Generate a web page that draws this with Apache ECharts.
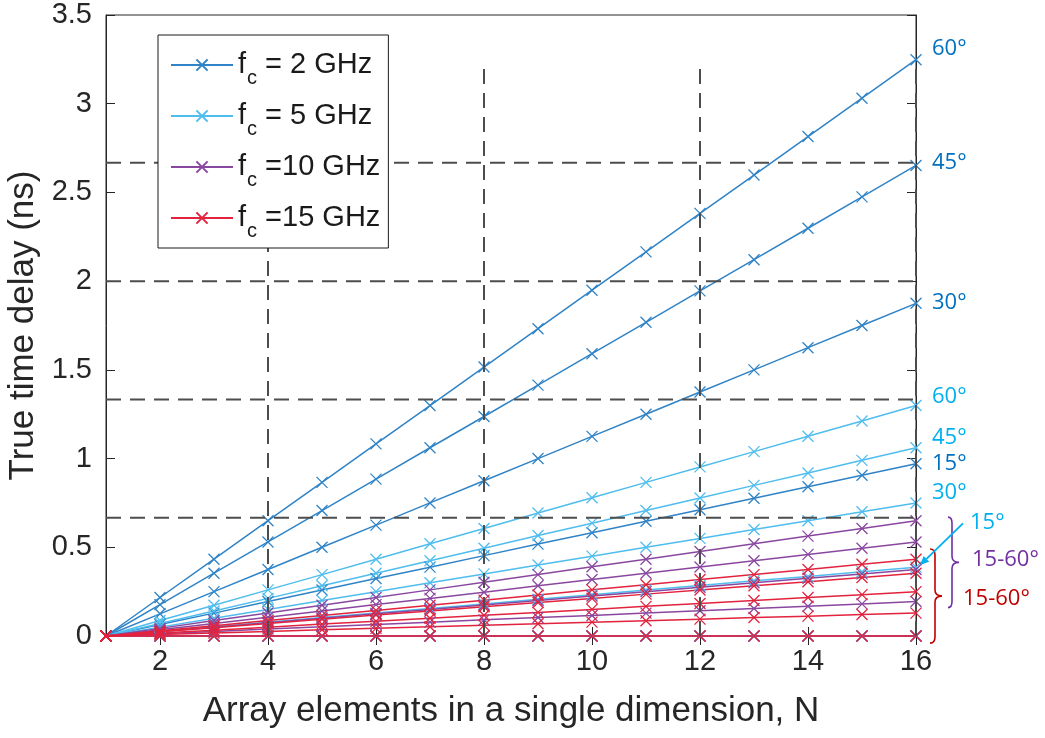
<!DOCTYPE html>
<html>
<head>
<meta charset="utf-8">
<script src="https://cdn.jsdelivr.net/npm/echarts@6/dist/echarts.min.js"></script>
<style>
  html, body { margin: 0; padding: 0; background: #ffffff; }
  #chart { width: 1045px; height: 738px; }
</style>
</head>
<body>
<div id="chart"></div>
<script>
// ---------- data ----------
const elementsN = [1, 2, 3, 4, 5, 6, 7, 8, 9, 10, 11, 12, 13, 14, 15, 16];

const delay2GHz = {
  '0':  [0, 0, 0, 0, 0, 0, 0, 0, 0, 0, 0, 0, 0, 0, 0, 0],
  '15': [0, 0.065, 0.129, 0.194, 0.259, 0.324, 0.388, 0.453, 0.518, 0.582, 0.647, 0.712, 0.776, 0.841, 0.906, 0.971],
  '30': [0, 0.125, 0.25, 0.375, 0.5, 0.625, 0.75, 0.875, 1.0, 1.125, 1.25, 1.375, 1.5, 1.625, 1.75, 1.875],
  '45': [0, 0.177, 0.354, 0.530, 0.707, 0.884, 1.061, 1.237, 1.414, 1.591, 1.768, 1.945, 2.121, 2.298, 2.475, 2.652],
  '60': [0, 0.217, 0.433, 0.650, 0.866, 1.083, 1.299, 1.516, 1.732, 1.949, 2.165, 2.382, 2.598, 2.815, 3.031, 3.248]
};
const delay5GHz = {
  '0':  [0, 0, 0, 0, 0, 0, 0, 0, 0, 0, 0, 0, 0, 0, 0, 0],
  '15': [0, 0.026, 0.052, 0.078, 0.104, 0.129, 0.155, 0.181, 0.207, 0.233, 0.259, 0.285, 0.311, 0.336, 0.362, 0.388],
  '30': [0, 0.05, 0.1, 0.15, 0.2, 0.25, 0.3, 0.35, 0.4, 0.45, 0.5, 0.55, 0.6, 0.65, 0.7, 0.75],
  '45': [0, 0.071, 0.141, 0.212, 0.283, 0.354, 0.424, 0.495, 0.566, 0.636, 0.707, 0.778, 0.849, 0.919, 0.990, 1.061],
  '60': [0, 0.087, 0.173, 0.260, 0.346, 0.433, 0.520, 0.606, 0.693, 0.779, 0.866, 0.953, 1.039, 1.126, 1.212, 1.299]
};
const delay10GHz = {
  '0':  [0, 0, 0, 0, 0, 0, 0, 0, 0, 0, 0, 0, 0, 0, 0, 0],
  '15': [0, 0.013, 0.026, 0.039, 0.052, 0.065, 0.078, 0.091, 0.104, 0.116, 0.129, 0.142, 0.155, 0.168, 0.181, 0.194],
  '30': [0, 0.025, 0.05, 0.075, 0.1, 0.125, 0.15, 0.175, 0.2, 0.225, 0.25, 0.275, 0.3, 0.325, 0.35, 0.375],
  '45': [0, 0.035, 0.071, 0.106, 0.141, 0.177, 0.212, 0.247, 0.283, 0.318, 0.354, 0.389, 0.424, 0.460, 0.495, 0.530],
  '60': [0, 0.043, 0.087, 0.130, 0.173, 0.217, 0.260, 0.303, 0.346, 0.390, 0.433, 0.476, 0.520, 0.563, 0.606, 0.650]
};
const delay15GHz = {
  '0':  [0, 0, 0, 0, 0, 0, 0, 0, 0, 0, 0, 0, 0, 0, 0, 0],
  '15': [0, 0.009, 0.017, 0.026, 0.035, 0.043, 0.052, 0.060, 0.069, 0.078, 0.086, 0.095, 0.104, 0.112, 0.121, 0.129],
  '30': [0, 0.017, 0.033, 0.050, 0.067, 0.083, 0.100, 0.117, 0.133, 0.150, 0.167, 0.183, 0.200, 0.217, 0.233, 0.250],
  '45': [0, 0.024, 0.047, 0.071, 0.094, 0.118, 0.141, 0.165, 0.189, 0.212, 0.236, 0.259, 0.283, 0.306, 0.330, 0.354],
  '60': [0, 0.029, 0.058, 0.087, 0.115, 0.144, 0.173, 0.202, 0.231, 0.260, 0.289, 0.318, 0.346, 0.375, 0.404, 0.433]
};

const seriesNames = ['fc2', 'fc5', 'fc10', 'fc15'];
const legendTexts = ['= 2 GHz', '= 5 GHz', '=10 GHz', '=15 GHz'];
const xTickValues = [2, 4, 6, 8, 10, 12, 14, 16];

// dashed guide lines
const guideDelays = [0.667, 1.333, 2.0, 2.667];
const guideElements = [4, 8, 12, 16];
const guideTop = 3.23;

// angle annotations at the right edge
const annotTexts  = ['60°', '45°', '30°', '60°', '45°', '15°', '30°', '15°', '15-60°', '15-60°'];
const annotDelays = [3.31, 2.67, 1.88, 1.35, 1.12, 0.97, 0.81, 0.64, 0.43, 0.21];
const annotGroup  = [0, 0, 0, 1, 1, 0, 1, 1, 2, 3];
const braceRanges = [[0.16, 0.67], [-0.04, 0.49]];   // purple, red
const arrowFromTo = [0.64, 0.40];

// ---------- styles ----------
const lineColors  = ['#2f83c6', '#4fbdee', '#8a47a0', '#e3233d'];
const labelColors = ['#0070c0', '#00b0f0', '#7030a0', '#c00000'];
const annotDx     = [16, 16, 16, 16, 16, 16, 16, 54, 56, 47];
const X_MARK = 'path://M0,0L10,10M10,0L0,10';
const AX = '#262626';
const FONT = '"Liberation Sans", Arial, sans-serif';

const chart = echarts.init(document.getElementById('chart'), null, { renderer: 'canvas' });

const series = [];
const groups = [delay2GHz, delay5GHz, delay10GHz, delay15GHz];
groups.forEach((g, gi) => {
  ['0', '15', '30', '45', '60'].forEach(angle => {
    series.push({
      type: 'line',
      name: seriesNames[gi],
      data: elementsN.map((n, i) => [n, g[angle][i]]),
      symbol: X_MARK,
      symbolSize: 11,
      showAllSymbol: true,
      clip: false,
      lineStyle: { color: lineColors[gi], width: 1.5 },
      itemStyle: { color: lineColors[gi], borderColor: lineColors[gi], borderWidth: 1.3 },
      emphasis: { disabled: true },
      z: 2,
      animation: false
    });
  });
});

const dashStyle = { color: '#4d4d4d', width: 2, type: [15, 9] };
guideDelays.forEach(v => {
  series.push({
    type: 'line', data: [[elementsN[0], v], [elementsN[elementsN.length - 1], v]],
    symbol: 'none', lineStyle: dashStyle, z: 3, silent: true, animation: false
  });
});
guideElements.forEach(n => {
  series.push({
    type: 'line', data: [[n, 0], [n, guideTop]],
    symbol: 'none', lineStyle: dashStyle, z: 3, silent: true, animation: false
  });
});

// annotations (labels, braces, arrow) placed through the axes' scales
series.push({
  type: 'custom',
  clip: false,
  silent: true,
  animation: false,
  z: 5,
  data: [[elementsN[elementsN.length - 1], 0]],
  renderItem: function (params, api) {
    const xEnd = elementsN[elementsN.length - 1];
    const children = [];
    annotTexts.forEach((t, i) => {
      const p = api.coord([xEnd, annotDelays[i]]);
      children.push({
        type: 'text',
        style: {
          x: p[0] + annotDx[i], y: p[1], text: t,
          fill: labelColors[annotGroup[i]],
          font: '22px "Open Sans", "Noto Sans", sans-serif',
          textAlign: 'left', textVerticalAlign: 'middle'
        }
      });
    });
    // braces
    const braceDx = [[32, 36, 43], [14, 19, 26]];
    braceRanges.forEach((r, bi) => {
      const top = api.coord([xEnd, r[1]])[1];
      const bot = api.coord([xEnd, r[0]])[1];
      const x0 = api.coord([xEnd, 0])[0];
      const hx = x0 + braceDx[bi][0], vx = x0 + braceDx[bi][1], tx = x0 + braceDx[bi][2];
      const mid = (top + bot) / 2, rr = 6;
      children.push({
        type: 'path',
        shape: {
          pathData: `M${hx},${top} Q${vx},${top} ${vx},${top + rr} L${vx},${mid - rr} Q${vx},${mid} ${tx},${mid} Q${vx},${mid} ${vx},${mid + rr} L${vx},${bot - rr} Q${vx},${bot} ${hx},${bot}`
        },
        style: { fill: null, stroke: labelColors[bi + 2], lineWidth: 1.6 }
      });
    });
    // arrow
    const a0 = api.coord([xEnd, arrowFromTo[0]]);
    const a1 = api.coord([xEnd, arrowFromTo[1]]);
    const sx = a0[0] + 47, sy = a0[1] + 1, ex = a1[0] + 4, ey = a1[1];
    const ang = Math.atan2(ey - sy, ex - sx);
    const hl = 9, hw = 4;
    const bx = ex - hl * Math.cos(ang), by = ey - hl * Math.sin(ang);
    children.push({
      type: 'line', shape: { x1: sx, y1: sy, x2: bx, y2: by },
      style: { stroke: labelColors[1], lineWidth: 1.8 }
    });
    children.push({
      type: 'polygon',
      shape: { points: [[ex, ey], [bx - hw * Math.sin(ang), by + hw * Math.cos(ang)], [bx + hw * Math.sin(ang), by - hw * Math.cos(ang)]] },
      style: { fill: labelColors[1] }
    });
    return { type: 'group', children: children };
  }
});

const tickFont = { color: AX, fontSize: 29, fontFamily: FONT };

const option = {
  backgroundColor: '#ffffff',
  animation: false,
  grid: {
    left: 106, right: 129, top: 15, bottom: 102,
    show: true, borderColor: AX, borderWidth: 1, backgroundColor: 'transparent',
    outerBoundsMode: 'none'
  },
  legend: {
    data: seriesNames,
    orient: 'vertical',
    left: 158, top: 35,
    padding: [7, 8, 7, 12],
    itemWidth: 62, itemHeight: 14, itemGap: 5,
    backgroundColor: '#ffffff',
    borderColor: '#1a1a1a', borderWidth: 1,
    selectedMode: false,
    formatter: function (name) {
      const i = seriesNames.indexOf(name);
      return '{n|f}{s|c}{n| ' + legendTexts[i] + '}';
    },
    textStyle: {
      color: '#1a1a1a',
      fontFamily: FONT,
      rich: {
        n: { fontSize: 29, lineHeight: 34, fontFamily: FONT, color: '#1a1a1a' },
        s: { fontSize: 20, lineHeight: 20, padding: [26, 0, 0, 1], fontFamily: FONT, color: '#1a1a1a' }
      }
    }
  },
  xAxis: [{
    type: 'value', min: 1, max: 16, position: 'bottom',
    name: 'Array elements in a single dimension, N',
    nameLocation: 'middle', nameGap: 58,
    nameTextStyle: { color: AX, fontSize: 35, fontFamily: FONT },
    axisLine: { show: true, lineStyle: { color: AX, width: 1 } },
    axisTick: { show: true, inside: true, length: 9, customValues: xTickValues, lineStyle: { color: AX } },
    axisLabel: Object.assign({ margin: 11, customValues: xTickValues }, tickFont),
    splitLine: { show: false }
  }, {
    type: 'value', min: 1, max: 16, position: 'top',
    axisLine: { show: true, lineStyle: { color: AX, width: 1 } },
    axisTick: { show: true, inside: true, length: 9, customValues: xTickValues, lineStyle: { color: AX } },
    axisLabel: { show: false },
    splitLine: { show: false }
  }],
  yAxis: [{
    type: 'value', min: 0, max: 3.5, interval: 0.5, position: 'left',
    name: 'True time delay (ns)',
    nameLocation: 'middle', nameGap: 55,
    nameTextStyle: { color: AX, fontSize: 35, fontFamily: FONT },
    axisLine: { show: true, lineStyle: { color: AX, width: 1 } },
    axisTick: { show: true, inside: true, length: 9, lineStyle: { color: AX } },
    axisLabel: Object.assign({ margin: 14 }, tickFont),
    splitLine: { show: false }
  }, {
    type: 'value', min: 0, max: 3.5, interval: 0.5, position: 'right',
    axisLine: { show: true, lineStyle: { color: AX, width: 1 } },
    axisTick: { show: true, inside: true, length: 9, lineStyle: { color: AX } },
    axisLabel: { show: false },
    splitLine: { show: false }
  }],
  series: series
};

chart.setOption(option);
</script>
</body>
</html>
